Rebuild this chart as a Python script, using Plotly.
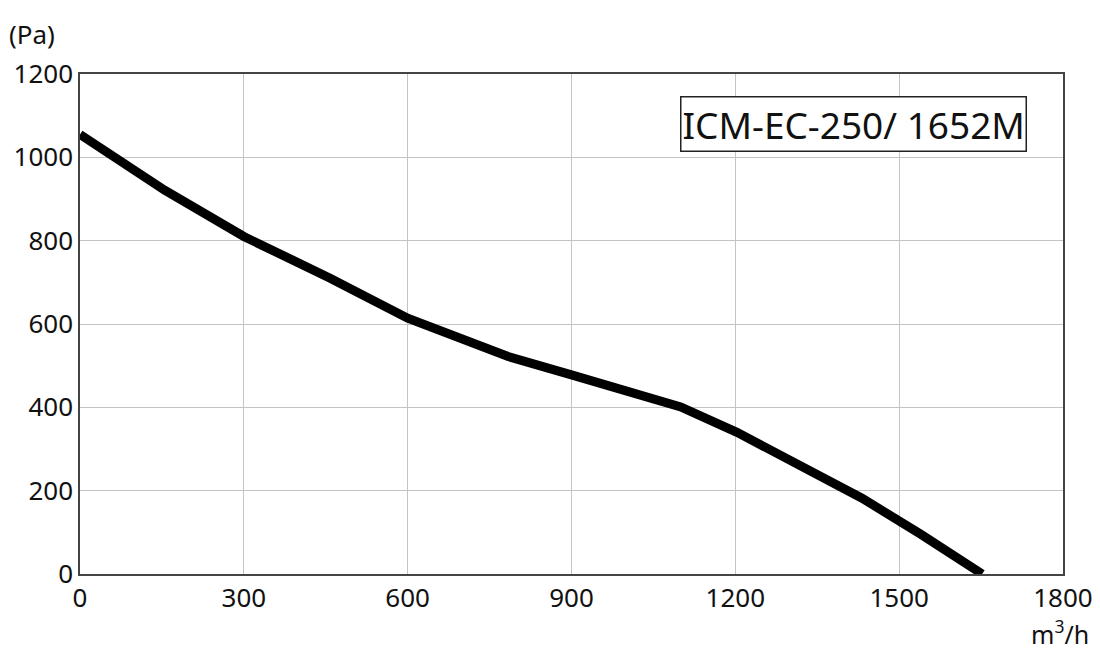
import plotly.graph_objects as go

flow = [0, 155, 300, 458, 600, 784, 900, 1100, 1203, 1320, 1432, 1540, 1652]
pressure = [1055, 921, 810, 710, 614, 522, 478, 401, 340, 262, 182, 95, 0]
x_ticks = [0, 300, 600, 900, 1200, 1500, 1800]
y_ticks = [0, 200, 400, 600, 800, 1000, 1200]
model = "ICM-EC-250/ 1652M"

font = "Noto Sans, sans-serif"
fig = go.Figure()
fig.add_trace(go.Scatter(x=flow, y=pressure, mode="lines",
                         line=dict(color="black", width=9), showlegend=False,
                         cliponaxis=False))
axis_common = dict(showgrid=True, gridcolor="#c4c4c4", gridwidth=1, showline=True,
                   linecolor="#444", linewidth=1.5, mirror=True, zeroline=False,
                   ticks="", ticklen=0, automargin=False,
                   tickfont=dict(family=font, size=26, color="#111"))
fig.update_layout(
    width=1092, height=646,
    margin=dict(l=72, r=37, t=66, b=80),
    plot_bgcolor="white", paper_bgcolor="white",
    font=dict(family=font, size=26, color="#111"),
    xaxis=dict(range=[0, 1800], tickvals=x_ticks, **axis_common),
    yaxis=dict(range=[0, 1200], tickvals=y_ticks, **axis_common),
    annotations=[
        dict(text=model, xref="paper", yref="paper", x=0.787, y=0.899, xanchor="center",
             yanchor="middle", showarrow=False, font=dict(family=font, size=37, color="#111"),
             bordercolor="#222", borderwidth=1.5, borderpad=1, bgcolor="white"),
        dict(text="(Pa)", xref="paper", yref="paper", x=-0.074, y=1.08, xanchor="left",
             yanchor="middle", showarrow=False, font=dict(family=font, size=26)),
        dict(text="m<sup>3</sup>/h", xref="paper", yref="paper", x=0.997, y=-0.116,
             xanchor="center", yanchor="middle", showarrow=False,
             font=dict(family=font, size=25)),
    ],
)
fig.write_html("out.html")
